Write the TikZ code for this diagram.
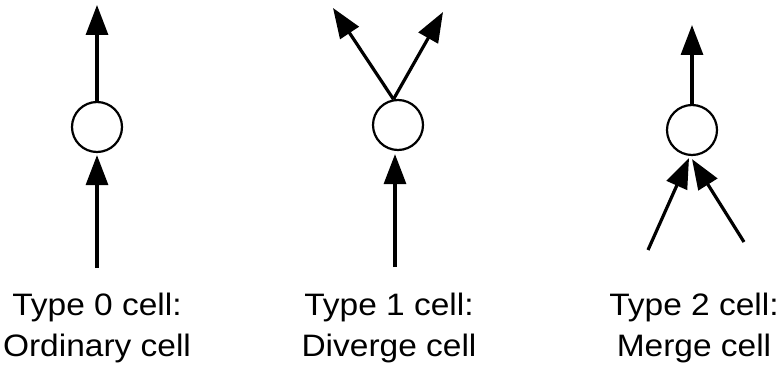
\documentclass[tikz,border=0pt]{standalone}
\usepackage{fontspec}
\setmainfont{Liberation Sans}[FakeStretch=1.08]
\usepackage{tikz}
\usetikzlibrary{arrows.meta, positioning}

\begin{document}
\begin{tikzpicture}[x=1pt, y=1pt]
\tikzstyle{cell} = [circle, draw, line width=2.2pt, minimum size=50pt, inner sep=0pt]
\tikzstyle{arrow} = [line width=3.2pt, -{Triangle[length=30pt, width=22pt]}]
\tikzstyle{caption} = [align=center, anchor=north, inner sep=0pt, font=\fontsize{31}{41}\selectfont]

\useasboundingbox (0,0) rectangle (781,367);

% the three cells
\node (ordinary) [cell] at (97,240) {};
\node (diverge) [cell] at (398,242) {};
\node (merge) [cell] at (692,237) {};

% free ends
\coordinate (ordinaryin) at (97,99);
\coordinate (ordinaryout) at (97,362);
\coordinate (divergein) at (395,100);
\coordinate (divergeleft) at (333,359);
\coordinate (divergeright) at (443,355);
\coordinate (mergeleft) at (648,117);
\coordinate (mergeright) at (744,125);
\coordinate (mergeout) at (692,342);

\draw [arrow] (ordinaryin) -- ([yshift=-2pt]ordinary.south);
\draw [arrow] (ordinary.north) -- (ordinaryout);

\draw [arrow] (divergein) -- ([xshift=-3pt, yshift=-3pt]diverge.south);
\draw [arrow] (diverge.100) -- (divergeleft);
\draw [arrow] (diverge.100) -- (divergeright);

\draw [arrow] (mergeleft) -- ([xshift=-3pt, yshift=-2pt]merge.south);
\draw [arrow] (mergeright) -- ([yshift=-3pt]merge.south);
\draw [arrow] (merge.north) -- (mergeout);

% labels
\node (ordinarytext) [caption] at (97,74) {Type 0 cell:\\Ordinary cell};
\node (divergetext) [caption] at (389,74) {Type 1 cell:\\Diverge cell};
\node (mergetext) [caption] at (694,74) {Type 2 cell:\\Merge cell};

\end{tikzpicture}
\end{document}
